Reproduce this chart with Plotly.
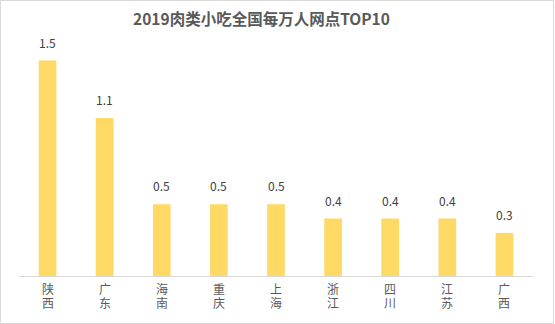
import plotly.graph_objects as go

# Data
provinces = ["陕西", "广东", "海南", "重庆", "上海", "浙江", "四川", "江苏", "广西"]
outlets_per_10k = [1.5, 1.1, 0.5, 0.5, 0.5, 0.4, 0.4, 0.4, 0.3]
title_text = "2019肉类小吃全国每万人网点TOP10"

W, H = 555, 324
m_l, m_r, m_t, m_b = 19, 22, 40, 48
plot_h = H - m_t - m_b
pw = W - m_l - m_r
y_max = 1.5 * plot_h / 215.5

bar_color = "#FFD966"
cjk = "Noto Sans CJK SC, Microsoft YaHei, sans-serif"
tick_font = "Liberation Sans, Noto Sans CJK SC, sans-serif"

fig = go.Figure()
fig.add_trace(go.Bar(
    x=provinces,
    y=outlets_per_10k,
    marker=dict(color=bar_color, line=dict(width=0)),
    hoverinfo="x+y",
))

# Value labels above each bar
for p, v in zip(provinces, outlets_per_10k):
    fig.add_annotation(
        x=p, y=v, text=f"{v:.1f}", showarrow=False,
        yanchor="bottom", yshift=8,
        font=dict(family=cjk, size=12, color="#404040"),
    )

# Category names written vertically, one character per row
row_px = [289.5, 303.5]
for p in provinces:
    for ch, py in zip(p, row_px):
        fig.add_annotation(
            x=p, xref="x", y=(H - m_b - py) / plot_h, yref="paper",
            text=ch, showarrow=False, yanchor="middle", borderpad=0,
            font=dict(family=tick_font, size=12, color="#595959"),
        )

# Light gray frame around the whole chart
fig.add_shape(
    type="rect", xref="paper", yref="paper",
    x0=(0.5 - m_l) / pw, x1=(553.5 - m_l) / pw,
    y0=(H - m_b - 323.5) / plot_h, y1=(H - m_b - 0.5) / plot_h,
    line=dict(color="#D9D9D9", width=1), fillcolor="rgba(0,0,0,0)",
    layer="below",
)

fig.update_layout(
    width=W, height=H,
    margin=dict(l=m_l, r=m_r, t=m_t, b=m_b),
    paper_bgcolor="white", plot_bgcolor="white",
    bargap=0.69,
    showlegend=False,
    title=dict(
        text=f"<b>{title_text}</b>",
        x=261.5 / W, xanchor="center", xref="container",
        y=1 - 20 / H, yanchor="middle", yref="container",
        font=dict(family=cjk, size=15.5, color="#595959"),
    ),
    xaxis=dict(
        showline=True, linecolor="#D9D9D9", linewidth=1,
        showgrid=False, showticklabels=False, ticks="",
        fixedrange=True,
    ),
    yaxis=dict(
        range=[0, y_max], visible=False, showgrid=False,
        zeroline=False, fixedrange=True,
    ),
)

fig.write_html("out.html")
